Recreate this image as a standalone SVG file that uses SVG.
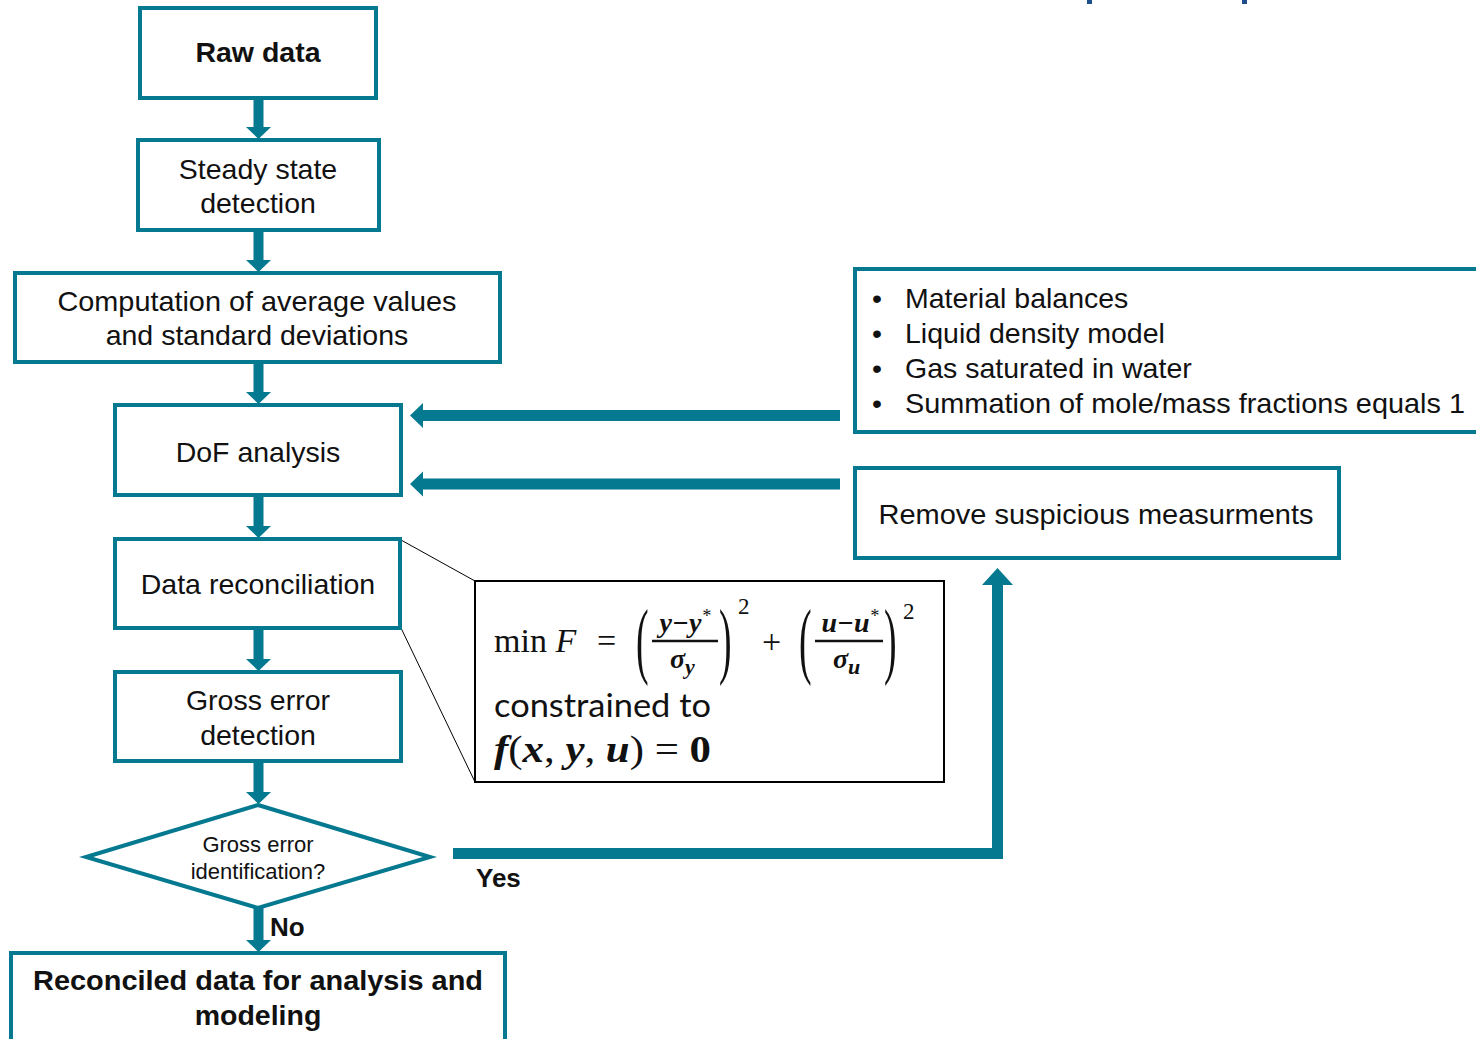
<svg xmlns="http://www.w3.org/2000/svg" width="1476" height="1039" viewBox="0 0 1476 1039">
<style>
.box{fill:#fff;stroke:#04798f;stroke-width:4}
.fbox{fill:#fff;stroke:#000;stroke-width:2}
.t{font-family:"Liberation Sans",Arial,sans-serif;font-size:28.5px;fill:#111;text-anchor:middle}
.b{font-weight:bold}
.l{text-anchor:start}
.s{font-size:22px}
.lab{font-size:26px}
.shaft{fill:#04798f}
.head{fill:#04798f}
.conn{stroke:#04798f;fill:none;stroke-width:11}
.m{font-family:"Liberation Serif","DejaVu Serif",serif;fill:#111}
.mi{font-style:italic}
.mb{font-style:italic;font-weight:bold}
</style>
<rect x="1087" y="0" width="5" height="4" fill="#1f4e8c"/>
<rect x="1242" y="0" width="5" height="4" fill="#1f4e8c"/>
<g id="connectors">
<path class="shaft" d="M253.5,98 h10 v29 h7.5 L258.5,139 L246,127 h7.5 Z"/>
<path class="shaft" d="M253.5,230 h10 v30 h7.5 L258.5,272 L246,260 h7.5 Z"/>
<path class="shaft" d="M253.5,362 h10 v30 h7.5 L258.5,404 L246,392 h7.5 Z"/>
<path class="shaft" d="M253.5,495 h10 v31 h7.5 L258.5,538 L246,526 h7.5 Z"/>
<path class="shaft" d="M253.5,628 h10 v31 h7.5 L258.5,671 L246,659 h7.5 Z"/>
<path class="shaft" d="M253.5,761 h10 v31 h7.5 L258.5,804 L246,792 h7.5 Z"/>
<path class="shaft" d="M253.5,908 h10 v32 h7.5 L258.5,952 L246,940 h7.5 Z"/>
<path class="shaft" d="M840,410 v11 H423 v7 L410,415.5 L423,403 v7 Z"/>
<path class="shaft" d="M840,478.5 v11 H423 v7 L410,484 L423,471.5 v7 Z"/>
<path class="conn" d="M453,853.5 H997.5 V584"/>
<polygon class="head" points="997.5,568 1013,585 982,585"/>
<line x1="401" y1="540" x2="475" y2="581" stroke="#000" stroke-width="1"/>
<line x1="401" y1="628" x2="475" y2="782" stroke="#000" stroke-width="1"/>
</g>
<g id="raw"><rect class="box" x="140" y="8" width="236" height="90"/><text class="t b" x="258" y="62">Raw data</text></g>
<g id="steady"><rect class="box" x="138" y="140" width="241" height="90"/><text class="t" x="258" y="179">Steady state</text><text class="t" x="258" y="213">detection</text></g>
<g id="avg"><rect class="box" x="15" y="273" width="485" height="89"/><text class="t" x="257" y="311" textLength="399" lengthAdjust="spacingAndGlyphs">Computation of average values</text><text class="t" x="257" y="345">and standard deviations</text></g>
<g id="dof"><rect class="box" x="115" y="405" width="286" height="90"/><text class="t" x="258" y="462">DoF analysis</text></g>
<g id="recon"><rect class="box" x="115" y="539" width="285" height="89"/><text class="t" x="258" y="594">Data reconciliation</text></g>
<g id="gross"><rect class="box" x="115" y="672" width="286" height="89"/><text class="t" x="258" y="710">Gross error</text><text class="t" x="258" y="745">detection</text></g>
<g id="decision"><polygon class="box" points="258,805 430,857 258,908 86,857"/><text class="t s" x="258" y="852">Gross error</text><text class="t s" x="258" y="879">identification?</text></g>
<g id="final"><rect class="box" x="11" y="953" width="494" height="120"/><text class="t b" x="258" y="990" textLength="450" lengthAdjust="spacingAndGlyphs">Reconciled data for analysis and</text><text class="t b" x="258" y="1025">modeling</text></g>
<g id="constraints"><rect class="box" x="855" y="269" width="700" height="163"/>
<text class="t l" x="872" y="308">•</text><text class="t l" x="905" y="308">Material balances</text>
<text class="t l" x="872" y="343">•</text><text class="t l" x="905" y="343">Liquid density model</text>
<text class="t l" x="872" y="378">•</text><text class="t l" x="905" y="378">Gas saturated in water</text>
<text class="t l" x="872" y="413">•</text><text class="t l" x="905" y="413" textLength="560" lengthAdjust="spacingAndGlyphs">Summation of mole/mass fractions equals 1</text>
</g>
<g id="remove"><rect class="box" x="855" y="468" width="484" height="90"/><text class="t" x="1096" y="524" textLength="435" lengthAdjust="spacingAndGlyphs">Remove suspicious measurments</text></g>
<g id="labels"><text class="t b l lab" x="270" y="936">No</text><text class="t b l lab" x="476" y="887">Yes</text></g>
<g id="formula"><rect class="fbox" x="475" y="581" width="469" height="201"/>
<text class="m" x="494" y="652" font-size="34">min <tspan class="mi">F</tspan></text>
<text class="m" x="597" y="652" font-size="34">=</text>
<text class="m" x="0" y="668" font-size="84" transform="translate(636,0) scale(0.45,1)">(</text>
<text class="m mb" x="685" y="632" font-size="28" text-anchor="middle">y−y<tspan font-size="18" dy="-10" font-weight="normal">*</tspan></text>
<line x1="652" y1="641" x2="718" y2="641" stroke="#111" stroke-width="2.5"/>
<text class="m mb" x="670" y="668" font-size="28">σ<tspan font-size="22" dy="6">y</tspan></text>
<text class="m" x="0" y="668" font-size="84" transform="translate(719,0) scale(0.45,1)">)</text>
<text class="m" x="738" y="614" font-size="23">2</text>
<text class="m" x="762" y="653" font-size="34">+</text>
<text class="m" x="0" y="668" font-size="84" transform="translate(799,0) scale(0.45,1)">(</text>
<text class="m mb" x="850" y="632" font-size="28" text-anchor="middle">u−u<tspan font-size="18" dy="-10" font-weight="normal">*</tspan></text>
<line x1="815" y1="641" x2="883" y2="641" stroke="#111" stroke-width="2.5"/>
<text class="m mb" x="833" y="668" font-size="28">σ<tspan font-size="22" dy="6">u</tspan></text>
<text class="m" x="0" y="668" font-size="84" transform="translate(884,0) scale(0.45,1)">)</text>
<text class="m" x="903" y="619" font-size="23">2</text>
<text x="494" y="717" font-family="Lato,'Open Sans',sans-serif" font-size="32" fill="#111" textLength="217" lengthAdjust="spacingAndGlyphs">constrained to</text>
<text class="m" x="494" y="762" font-size="38" textLength="217" lengthAdjust="spacingAndGlyphs"><tspan class="mb">f</tspan>(<tspan class="mb">x</tspan>, <tspan class="mb">y</tspan>, <tspan class="mb">u</tspan>) = <tspan font-weight="bold">0</tspan></text>
</g>
</svg>
